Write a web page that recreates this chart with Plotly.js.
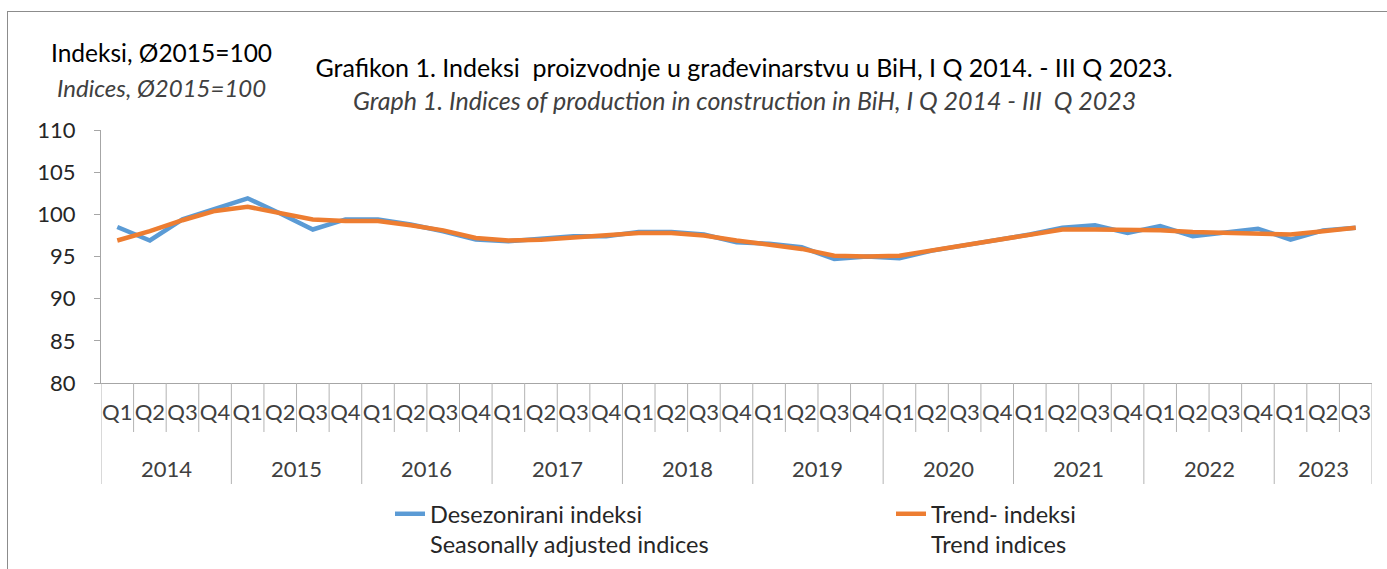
<!DOCTYPE html>
<html>
<head>
<meta charset="utf-8">
<script src="https://cdn.plot.ly/plotly-3.0.1.min.js"></script>
<style>
  html, body { margin: 0; padding: 0; background: #fff; overflow: hidden; }
  #wrap { position: relative; width: 1387px; height: 569px; }
  #chart { position: absolute; left: 0; top: 0; width: 1387px; height: 569px; }
  #frame { position: absolute; left: 7px; top: 11px; width: 1400px; height: 600px;
           border: 1px solid #8c8c8c; pointer-events: none; }
</style>
</head>
<body>
<div id="wrap">
  <div id="chart"></div>
  <div id="frame"></div>
</div>
<script>
// ---- data ----
const yearLabels = ['2014','2015','2016','2017','2018','2019','2020','2021','2022','2023'];
const quarterLabels = ['Q1','Q2','Q3','Q4','Q1','Q2','Q3','Q4','Q1','Q2','Q3','Q4','Q1','Q2','Q3','Q4',
  'Q1','Q2','Q3','Q4','Q1','Q2','Q3','Q4','Q1','Q2','Q3','Q4','Q1','Q2','Q3','Q4',
  'Q1','Q2','Q3','Q4','Q1','Q2','Q3'];
const seasonal = [98.5,96.9,99.4,100.7, 101.9,100.1,98.2,99.4, 99.4,98.8,98.0,97.0,
  96.8,97.1,97.4,97.4, 97.9,97.9,97.6,96.7, 96.5,96.1,94.7,95.0, 94.8,95.7,96.3,97.0,
  97.6,98.4,98.7,97.8, 98.6,97.4,97.9,98.3, 97.0,98.1,98.4];
const trend = [96.9,98.0,99.3,100.4, 100.9,100.1,99.4,99.2, 99.2,98.7,98.1,97.2,
  96.9,97.0,97.3,97.5, 97.8,97.8,97.5,96.9, 96.4,95.9,95.1,95.0, 95.1,95.7,96.3,97.0,
  97.5,98.2,98.2,98.2, 98.1,97.9,97.8,97.7, 97.6,98.0,98.4];
const yTicks = [80,85,90,95,100,105,110];

const seriesNames = ['Desezonirani indeksi<br>Seasonally adjusted indices', 'Trend- indeksi<br>Trend indices'];
const titleMain = 'Grafikon 1. Indeksi  proizvodnje u građevinarstvu u BiH, I Q 2014. - III Q 2023.';
const titleSub = 'Graph 1. Indices of production in construction in BiH, I Q 2014 - III  Q 2023';
const yTitle1 = 'Indeksi, Ø2015=100';
const yTitle2 = 'Indices, Ø2015=100';

// ---- build ----
const FONT = 'Lato, "Open Sans", sans-serif';
const xs = quarterLabels.map((_, i) => i);
const n = xs.length;

const traces = [
  { x: xs, y: seasonal, type: 'scatter', mode: 'lines', name: seriesNames[0],
    line: { color: '#5b9bd5', width: 4.5 }, legend: 'legend' },
  { x: xs, y: trend, type: 'scatter', mode: 'lines', name: seriesNames[1],
    line: { color: '#ed7d31', width: 4.5 }, legend: 'legend2' }
];

const plotH = 569 - 130 - 186;
const plotW = 1387 - 101 - 15;
const qLen = -49 / plotH;
const yLen = -101 / plotH;
const shapes = [];
for (let k = 0; k <= n; k++) {
  const isYear = (k % 4 === 0) || k === n;
  shapes.push({ type: 'line', xref: 'x', yref: 'paper', x0: k - 0.5, x1: k - 0.5,
    y0: 0, y1: isYear ? yLen : qLen, line: { color: '#b3b3b3', width: 1 } });
}

const annotations = [];
yearLabels.forEach((yr, j) => {
  const idx = xs.filter(i => Math.floor(i / 4) === j);
  const cx = (idx[0] + idx[idx.length - 1]) / 2;
  annotations.push({ xref: 'x', yref: 'paper', x: cx, y: -85 / plotH, text: yr,
    showarrow: false, xanchor: 'center', yanchor: 'middle',
    font: { family: FONT, size: 22, color: '#404040' } });
});
annotations.push({ xref: 'paper', yref: 'paper', x: (161 - 101) / plotW, y: 1 + (130 - 52) / plotH,
  text: yTitle1, showarrow: false, xanchor: 'center', yanchor: 'middle',
  font: { family: FONT, size: 24.5, color: '#000' } });
annotations.push({ xref: 'paper', yref: 'paper', x: (161 - 101) / plotW, y: 1 + (130 - 87) / plotH,
  text: '<i>' + yTitle2 + '</i>', showarrow: false, xanchor: 'center', yanchor: 'middle',
  font: { family: FONT, size: 24, color: '#404040' } });
annotations.push({ xref: 'paper', yref: 'paper', x: (744 - 101) / plotW, y: 1 + (130 - 100) / plotH,
  text: '<i>' + titleSub + '</i>', showarrow: false, xanchor: 'center', yanchor: 'middle',
  font: { family: FONT, size: 25, color: '#404040' } });

const legendBase = {
  orientation: 'v', xanchor: 'left',
  yref: 'container', y: 1 - 492 / 569, yanchor: 'top', valign: 'top',
  font: { family: FONT, size: 23.5, color: '#262626' },
  bgcolor: 'rgba(0,0,0,0)'
};

const layout = {
  width: 1387, height: 569,
  margin: { l: 101, r: 15, t: 130, b: 186, autoexpand: false },
  paper_bgcolor: '#fff', plot_bgcolor: '#fff',
  font: { family: FONT, color: '#404040' },
  title: { text: titleMain, x: 744 / 1387, xanchor: 'center', xref: 'container',
           y: 1 - 68 / 569, yanchor: 'middle', yref: 'container',
           font: { family: FONT, size: 25, color: '#000' } },
  xaxis: {
    range: [-0.5, n - 0.5], tickmode: 'array', tickvals: xs, ticktext: quarterLabels,
    ticks: 'outside', ticklen: 10, tickcolor: 'rgba(0,0,0,0)',
    tickfont: { family: FONT, size: 22, color: '#404040' },
    showline: true, linecolor: '#a6a6a6', linewidth: 1,
    showgrid: false, zeroline: false, fixedrange: true
  },
  yaxis: {
    range: [80, 110], tickmode: 'array', tickvals: yTicks,
    ticks: 'outside', ticklen: 6, tickcolor: '#a6a6a6',
    ticklabelstandoff: 14,
    tickfont: { family: FONT, size: 22, color: '#262626' },
    showline: true, linecolor: '#a6a6a6', linewidth: 1,
    showgrid: false, zeroline: false, fixedrange: true
  },
  showlegend: true,
  legend: Object.assign({}, legendBase, { x: (390 - 101) / plotW }),
  legend2: Object.assign({}, legendBase, { x: (891 - 101) / plotW }),
  shapes: shapes,
  annotations: annotations
};

Plotly.newPlot('chart', traces, layout, { displayModeBar: false, staticPlot: true });
</script>
</body>
</html>
